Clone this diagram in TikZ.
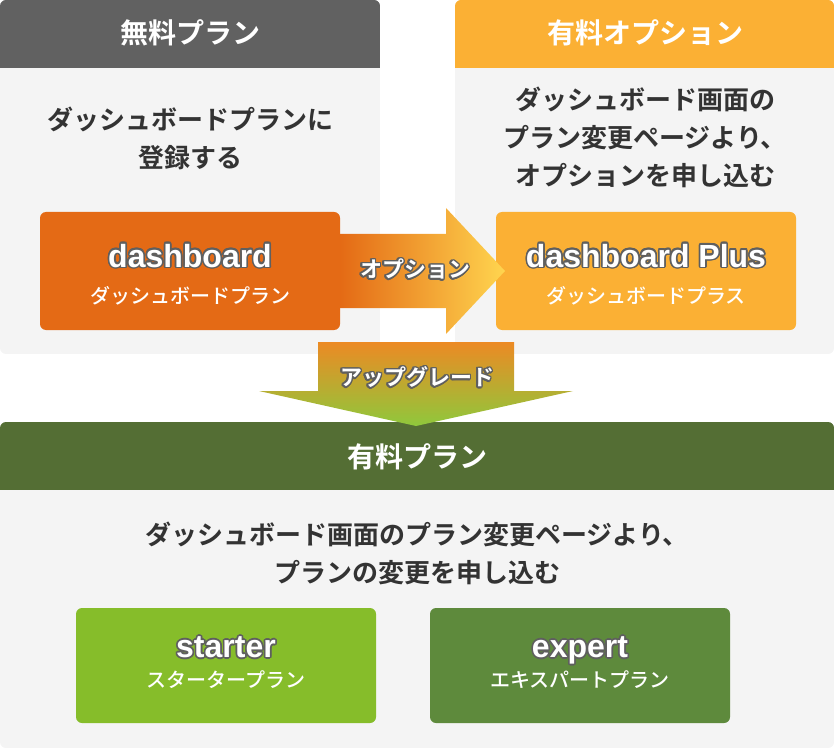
\documentclass[tikz,border=0pt]{standalone}
\usepackage{fontspec}
\setmainfont{Noto Sans CJK JP}[BoldFont={* Bold}]
\newfontfamily\latinfont{Liberation Sans}
\newfontfamily\subfont{Noto Sans CJK JP Medium}
\usepackage{contour}
\contourlength{1.2pt}

\definecolor{panelgray}{HTML}{F4F4F4}
\definecolor{freegray}{HTML}{616161}
\definecolor{optorange}{HTML}{FBB034}
\definecolor{dashorange}{HTML}{E46A15}
\definecolor{arrowmid}{HTML}{F6A02B}
\definecolor{arrowyellow}{HTML}{FFD54F}
\definecolor{paidgreen}{HTML}{546E34}
\definecolor{startergreen}{HTML}{86BD2A}
\definecolor{expertgreen}{HTML}{5E8A3C}
\definecolor{uporange}{HTML}{EC8A24}
\definecolor{upgreen}{HTML}{8FC83C}
\definecolor{textgray}{HTML}{333333}
\definecolor{outlinegray}{HTML}{5F5F5F}

\newcommand\plantext[4]{\rule{0pt}{#3}{\latinfont\bfseries\fontsize{24}{27}\selectfont\contour{outlinegray}{#1}}\\#2\rule[-#4]{0pt}{#4}}

\begin{document}
\begin{tikzpicture}[x=0.75pt, y=-0.75pt, outer sep=0pt]

\tikzstyle{headtext}=[text=white, font=\bfseries\fontsize{21}{25}\selectfont]
\tikzstyle{bodytext}=[text=textgray, align=center, font=\bfseries\fontsize{19.5}{28.5}\selectfont]
\tikzstyle{plan}=[rectangle, rounded corners=4.5pt, minimum width=225pt, minimum height=88.5pt, text=white, align=center, font=\subfont\fontsize{15}{27}\selectfont]
\tikzstyle{lowplan}=[plan, minimum height=86.25pt, font=\subfont\fontsize{15}{22.5}\selectfont]
\tikzstyle{arrowlabel}=[text=white, font=\bfseries\fontsize{16.5}{20}\selectfont]

\useasboundingbox (0,0) rectangle (834,748);

% panels
\begin{scope}
\clip[rounded corners=4.5pt] (0,0) rectangle (380,354);
\fill[panelgray] (0,0) rectangle (380,354); \fill[freegray] (0,0) rectangle (380,68);
\end{scope}
\begin{scope}
\clip[rounded corners=4.5pt] (455,0) rectangle (834,354);
\fill[panelgray] (455,0) rectangle (834,354); \fill[optorange] (455,0) rectangle (834,68);
\end{scope}
\begin{scope}
\clip[rounded corners=4.5pt] (0,422) rectangle (834,748);
\fill[panelgray] (0,422) rectangle (834,748); \fill[paidgreen] (0,422) rectangle (834,490);
\end{scope}

\node[headtext] (freehead) at (190,33) {無料プラン};
\node[headtext] (opthead) at (645,33) {有料オプション};
\node[headtext] (paidhead) at (417,457) {有料プラン};

\node[bodytext] (freetext) at (190,138) {ダッシュボードプランに\\登録する};
\node[bodytext] (opttext) at (645,137) {ダッシュボード画面の\\プラン変更ページより、\\オプションを申し込む};
\node[bodytext] (paidtext) at (417,553) {ダッシュボード画面のプラン変更ページより、\\プランの変更を申し込む};

% plan boxes
\node[plan, fill=dashorange] (dash) at (190,271) {\plantext{dashboard}{ダッシュボードプラン}{23pt}{2pt}};
\node[plan, fill=optorange] (dashplus) at (646,271) {\plantext{dashboard Plus}{ダッシュボードプラス}{23pt}{2pt}};
\node[lowplan, fill=startergreen] (starter) at (226,665.5) {\plantext{starter}{スタータープラン}{19.5pt}{9pt}};
\node[lowplan, fill=expertgreen] (expert) at (580,665.5) {\plantext{expert}{エキスパートプラン}{19.5pt}{9pt}};

% arrows
\shade[left color=dashorange, middle color=arrowmid, right color=arrowyellow] (dash.east) ++(0,-37) -- ++(106,0) -- ++(0,-26) -- ++(59,63) -- ++(-59,63) -- ++(0,-26) -- ++(-106,0) -- cycle;
\coordinate (upstart) at (416,342);
\shade[top color=uporange, bottom color=upgreen] (upstart) ++(-98,0) -- ++(196,0) -- ++(0,49) -- ++(59,0) -- ++(-157,35) -- ++(-157,-35) -- ++(59,0) -- cycle;

\node[arrowlabel] (optlabel) at (415,270) {\contour{outlinegray}{オプション}};
\node[arrowlabel] (uplabel) at (417,378) {\contour{outlinegray}{アップグレード}};

\end{tikzpicture}
\end{document}
